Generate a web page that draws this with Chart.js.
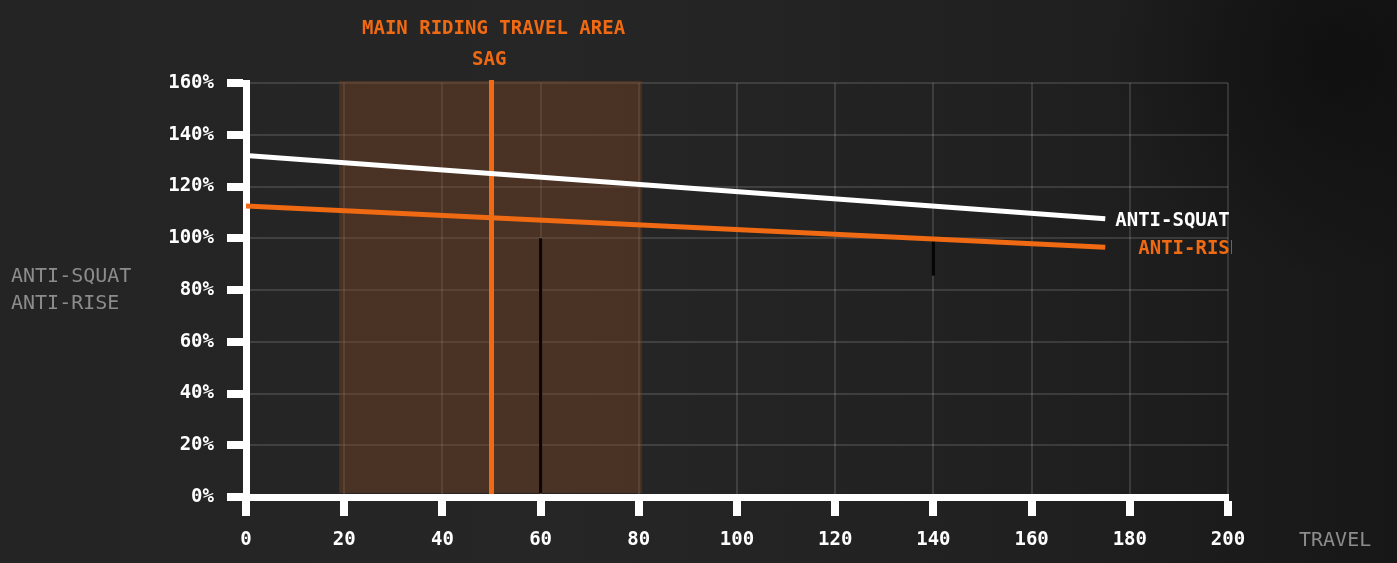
<!DOCTYPE html>
<html>
<head>
<meta charset="utf-8">
<script src="https://cdn.jsdelivr.net/npm/chart.js@4.4.1/dist/chart.umd.min.js"></script>
<style>
  html, body { margin: 0; padding: 0; }
  body {
    width: 1397px; height: 563px; overflow: hidden;
    background:
      radial-gradient(circle at 1330px 60px, rgba(10,10,10,0.55) 0, rgba(10,10,10,0) 220px),
      linear-gradient(90deg, #242424 0%, #262626 40%, #202020 75%, #171717 100%);
    font-family: "DejaVu Sans Mono", monospace;
    position: relative;
  }
  #wrap { position: absolute; left: 0; top: 0; width: 1397px; height: 563px; }
  .lbl { position: absolute; font-weight: bold; white-space: nowrap; }
</style>
</head>
<body>
<div id="wrap"><canvas id="c" width="1397" height="563"></canvas></div>
<script>
// travel (mm) and values (%)
var travel = [0, 175];
var antiSquat = [132, 107.5];
var antiRise = [112.5, 96.5];
var xTicks = [0, 20, 40, 60, 80, 100, 120, 140, 160, 180, 200];
var yTicks = [0, 20, 40, 60, 80, 100, 120, 140, 160];
var mainArea = [20, 80];
var sagAt = 50;
var darkMarks = [[60, 0, 100], [140, 84, 100]];

var orange = '#ef6a12';

function pts(xs, ys) {
  return xs.map(function(x, i) { return { x: x, y: ys[i] }; });
}

var zonePlugin = {
  id: 'zone',
  beforeDatasetsDraw: function(chart) {
    var ctx = chart.ctx, xs = chart.scales.x, ys = chart.scales.y;
    var x0 = xs.getPixelForValue(mainArea[0]), x1 = xs.getPixelForValue(mainArea[1]);
    var top = ys.getPixelForValue(160), bot = ys.getPixelForValue(0);
    ctx.save();
    ctx.fillStyle = 'rgba(125,70,35,0.42)';
    ctx.fillRect(x0 - 5, top - 2, x1 - x0 + 8, bot - top - 2);
    ctx.strokeStyle = 'rgba(0,0,0,0.9)';
    ctx.lineWidth = 3;
    darkMarks.forEach(function(m) {
      var px = xs.getPixelForValue(m[0]);
      ctx.beginPath();
      ctx.moveTo(px, ys.getPixelForValue(m[2]));
      ctx.lineTo(px, ys.getPixelForValue(m[1]) - 4);
      ctx.stroke();
    });
    var sx = xs.getPixelForValue(sagAt);
    ctx.strokeStyle = orange;
    ctx.lineWidth = 5;
    ctx.beginPath();
    ctx.moveTo(sx, top - 3);
    ctx.lineTo(sx, bot - 3);
    ctx.stroke();
    ctx.restore();
  },
  afterDatasetsDraw: function(chart) {
    var ctx = chart.ctx, xs = chart.scales.x, ys = chart.scales.y;
    ctx.save();
    ctx.beginPath();
    ctx.rect(0, 0, xs.getPixelForValue(200) + 4, chart.height);
    ctx.clip();
    ctx.font = 'bold 19px "DejaVu Sans Mono"';
    ctx.textBaseline = 'middle';
    var ex = xs.getPixelForValue(travel[travel.length - 1]);
    ctx.fillStyle = '#ffffff';
    ctx.fillText('ANTI-SQUAT', ex + 10, ys.getPixelForValue(antiSquat[antiSquat.length - 1]) + 2);
    ctx.fillStyle = orange;
    ctx.fillText('ANTI-RISE', ex + 33, ys.getPixelForValue(antiRise[antiRise.length - 1]) + 2);
    ctx.restore();
  }
};

var tickFont = { family: 'DejaVu Sans Mono', size: 19, weight: 'bold' };

new Chart(document.getElementById('c'), {
  type: 'line',
  data: {
    datasets: [
      { label: 'ANTI-SQUAT', data: pts(travel, antiSquat), borderColor: '#ffffff', borderWidth: 5, pointRadius: 0 },
      { label: 'ANTI-RISE', data: pts(travel, antiRise), borderColor: orange, borderWidth: 5, pointRadius: 0 }
    ]
  },
  options: {
    responsive: false,
    animation: false,
    layout: { padding: { left: 0, right: 169, top: 83, bottom: 0 } },
    plugins: { legend: { display: false }, tooltip: { enabled: false } },
    scales: {
      x: {
        type: 'linear', min: 0, max: 200,
        afterBuildTicks: function(s) { s.ticks = xTicks.map(function(v) { return { value: v }; }); },
        afterFit: function(s) { s.height = 66; },
        border: { color: '#ffffff', width: 7 },
        grid: { color: 'rgba(255,255,255,0.13)', lineWidth: 2, tickColor: '#ffffff', tickWidth: 8, tickLength: 19 },
        ticks: { color: '#ffffff', padding: 13, font: tickFont }
      },
      y: {
        type: 'linear', min: 0, max: 160,
        afterBuildTicks: function(s) { s.ticks = yTicks.map(function(v) { return { value: v }; }); },
        afterFit: function(s) { s.width = 246; },
        border: { color: '#ffffff', width: 7 },
        grid: { color: 'rgba(255,255,255,0.13)', lineWidth: 2, tickColor: '#ffffff', tickWidth: 8, tickLength: 19 },
        ticks: { color: '#ffffff', padding: 13, font: tickFont,
          callback: function(v) { return v + '%'; } }
      }
    }
  },
  plugins: [zonePlugin]
});
</script>
<div class="lbl" style="left:362px;top:16px;color:#ef6a12;font-size:19px;">MAIN RIDING TRAVEL AREA</div>
<div class="lbl" style="left:472px;top:47px;color:#ef6a12;font-size:19px;">SAG</div>
<div class="lbl" style="left:11px;top:262px;color:#8c8c8c;font-size:20px;font-weight:normal;line-height:27px;">ANTI-SQUAT<br>ANTI-RISE</div>
<div class="lbl" style="left:1299px;top:527px;color:#8c8c8c;font-size:20px;font-weight:normal;">TRAVEL</div>
</body>
</html>
